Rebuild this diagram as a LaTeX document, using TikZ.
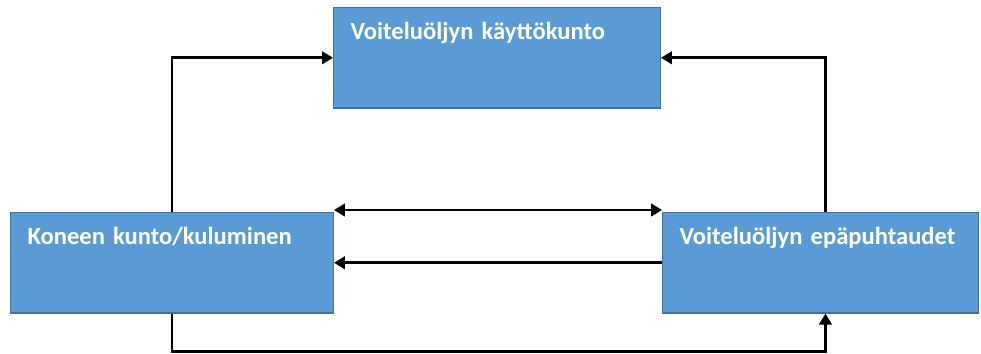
\documentclass[tikz,border=0pt]{standalone}
\usepackage{fontspec}
\setmainfont{Carlito}
\usepackage{tikz}
\usetikzlibrary{positioning}
\usetikzlibrary{arrows.meta}
\definecolor{boxblue}{HTML}{5B9BD5}
\definecolor{boxedge}{HTML}{41719C}

\tikzset{
    laatikko/.style={draw=boxedge, line width=0.6pt, fill=boxblue, text=white,
        font=\fontsize{14}{16}\selectfont\bfseries, align=left,
        inner xsep=0.34cm, inner ysep=0pt, text height=0.64cm, text depth=1.37cm},
    nuoli/.style={line width=1.6pt, -{Triangle[length=0.22cm, width=0.25cm]}}
}

\begin{document}
\begin{tikzpicture}[x=0.02cm, y=-0.02cm]
    \useasboundingbox (0,0) rectangle (981,353);
    \node[laatikko, anchor=north west, text width=5.86cm] (kaytto) at (333,7) {Voiteluöljyn käyttökunto};
    \node[laatikko, anchor=north west, text width=5.78cm] (kunto) at (10,212) {Koneen kunto/kuluminen};
    \node[laatikko, anchor=north west, text width=5.64cm] (epap) at (662,212) {Voiteluöljyn epäpuhtaudet};
    \draw[nuoli] (kunto.north) |- (kaytto.west);
    \draw[nuoli] ([xshift=0.1cm]epap.north) |- (kaytto.east);
    \draw[nuoli, {Triangle[length=0.22cm, width=0.25cm]}-{Triangle[length=0.22cm, width=0.25cm]}] ([yshift=0.04cm]kunto.north east) -- ([yshift=0.04cm]epap.north west);
    \draw[nuoli] (epap.west) -- (kunto.east);
    \draw[nuoli] (kunto.south) -- ++(0,38) -| ([xshift=0.1cm]epap.south);
\end{tikzpicture}
\end{document}
